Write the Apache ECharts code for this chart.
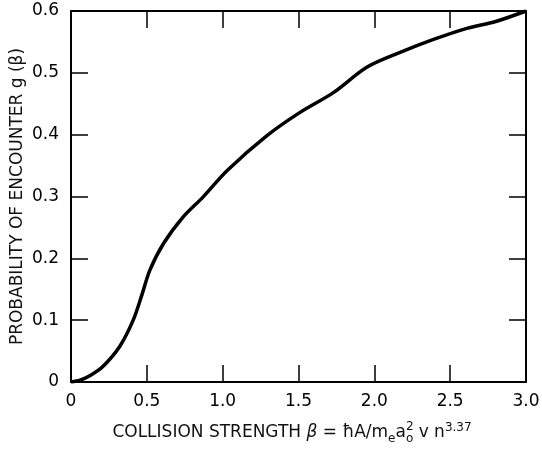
<!DOCTYPE html>
<html><head><meta charset="utf-8">
<script src="https://cdn.jsdelivr.net/npm/echarts@6/dist/echarts.min.js"></script>
<style>html,body{margin:0;padding:0;background:#fff}#c{width:542px;height:451px}</style>
</head><body><div id="c"></div>
<script>
var betaValues = [0, 0.06, 0.13, 0.21, 0.32, 0.41, 0.47, 0.52, 0.61, 0.74, 0.87, 1.03, 1.29, 1.51, 1.73, 1.95, 2.17, 2.39, 2.61, 2.8, 3.0];
var gValues = [0, 0.003, 0.011, 0.025, 0.057, 0.1, 0.143, 0.181, 0.224, 0.267, 0.299, 0.342, 0.398, 0.436, 0.468, 0.509, 0.533, 0.554, 0.572, 0.583, 0.6];
var xTickLabels = ['0', '0.5', '1.0', '1.5', '2.0', '2.5', '3.0'];
var yTickLabels = ['0', '0.1', '0.2', '0.3', '0.4', '0.5', '0.6'];
var yTitle = 'PROBABILITY OF ENCOUNTER g (β)';

var FONT = '"DejaVu Sans", Verdana, sans-serif';
var chart = echarts.init(document.getElementById('c'), null, {renderer: 'canvas'});
var pts = betaValues.map(function (b, i) { return [b, gValues[i]]; });

function axisBase(show) {
  return {
    axisLine: {show: true, onZero: false, lineStyle: {color: '#000', width: 2}},
    axisTick: {show: true, inside: true, length: 17, lineStyle: {color: '#000', width: 1.5}},
    splitLine: {show: false},
    axisLabel: {show: show}
  };
}
var xMain = Object.assign(axisBase(true), {
  type: 'value', min: 0, max: 3, interval: 0.5, position: 'bottom'
});
xMain.axisLabel = {show: true, margin: 11, fontFamily: FONT, fontSize: 17, color: '#000',
  formatter: function (v) { return xTickLabels[Math.round(v / 0.5)]; }};
var xTop = Object.assign(axisBase(false), {type: 'value', min: 0, max: 3, interval: 0.5, position: 'top'});
var yMain = Object.assign(axisBase(true), {
  type: 'value', min: 0, max: 0.6, interval: 0.1, position: 'left',
  name: yTitle, nameLocation: 'middle', nameGap: 45, nameRotate: 90, nameMoveOverlap: false,
  nameTextStyle: {fontFamily: FONT, fontSize: 17, color: '#111'}
});
yMain.axisLabel = {show: true, margin: 12, fontFamily: FONT, fontSize: 17, color: '#000',
  formatter: function (v) { return yTickLabels[Math.round(v / 0.1)]; }};
var yRight = Object.assign(axisBase(false), {type: 'value', min: 0, max: 0.6, interval: 0.1, position: 'right'});

// x axis title with sub/superscripts, built from text pieces
var ctx = document.createElement('canvas').getContext('2d');
function w(t, size, style) { ctx.font = (style || '') + ' ' + size + 'px ' + FONT; return ctx.measureText(t).width; }
var big = 17, small = 12;
var pieces = [
  {t: 'COLLISION STRENGTH ', s: big, dy: 0},
  {t: 'β', s: big, dy: 0, st: 'italic'},
  {t: ' = ħA/m', s: big, dy: 0},
  {t: 'e', s: small, dy: 4},
  {t: 'a', s: big, dy: 0},
  {t: 'o', s: small, dy: 4, stackSup: '2'},
  {t: ' v n', s: big, dy: 0},
  {t: '3.37', s: small, dy: -7}
];
var total = 0;
pieces.forEach(function (p) { p.w = w(p.t, p.s, p.st); total += p.w; });
var cx = 292, base = 438, x0 = cx - total / 2;
var graphics = [];
function tx(text, x, baseline, size, st) {
  return {type: 'text', x: x, y: baseline - 0.3 * size,
    style: {text: text, x: 0, y: 0, fill: '#111', fontSize: size, fontFamily: FONT, fontStyle: st || 'normal', verticalAlign: 'middle', align: 'left'}};
}
pieces.forEach(function (p) {
  graphics.push(tx(p.t, x0, base + p.dy, p.s, p.st));
  if (p.stackSup) graphics.push(tx(p.stackSup, x0, base - 8, small));
  x0 += p.w;
});

chart.setOption({
  animation: false,
  backgroundColor: '#fff',
  grid: {left: 71, right: 16, top: 11, bottom: 69, containLabel: false, outerBoundsMode: 'none'},
  xAxis: [xMain, xTop],
  yAxis: [yMain, yRight],
  graphic: graphics,
  series: [{
    type: 'line', data: pts, smooth: 0.3, showSymbol: false, symbol: 'none',
    xAxisIndex: 0, yAxisIndex: 0,
    lineStyle: {color: '#000', width: 3.5}
  }]
});
</script></body></html>
